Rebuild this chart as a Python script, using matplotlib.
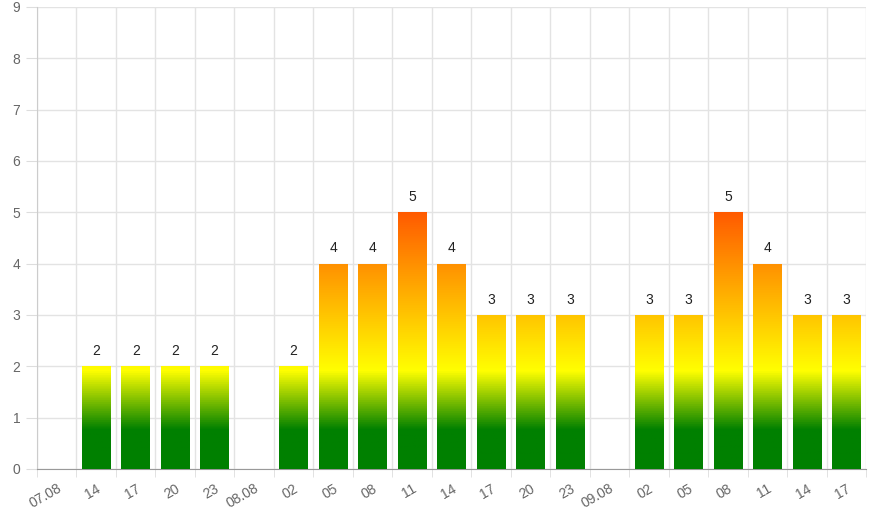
import numpy as np
import matplotlib
matplotlib.use('Agg')
import matplotlib.pyplot as plt
from matplotlib.colors import LinearSegmentedColormap

plt.rcParams['font.family'] = ['Liberation Sans', 'DejaVu Sans']

labels = ['07.08', '14', '17', '20', '23', '08.08', '02', '05', '08', '11', '14',
          '17', '20', '23', '09.08', '02', '05', '08', '11', '14', '17']
values = [None, 2, 2, 2, 2, None, 2, 4, 4, 5, 4, 3, 3, 3, None, 3, 3, 5, 4, 3, 3]

ymax = 9
# gradient stops in value units
cmap = LinearSegmentedColormap.from_list(
    'grad', [(0, '#008000'), (0.75 / ymax, '#008000'), (1.9 / ymax, '#ffff00'),
             (5.0 / ymax, '#ff5a00'), (1.0, '#ff0000')])

fig = plt.figure(figsize=(8.75, 5.25), dpi=100)
ax = fig.add_axes([37 / 875, 56 / 525, 829 / 875, 462 / 525])

x = np.arange(len(labels))
heights = [v if v is not None else 0 for v in values]
bars = ax.bar(x, heights, width=0.72, color='none', edgecolor='none', zorder=3)

grad = np.linspace(0, 1, 512).reshape(-1, 1)
for b, v in zip(bars, values):
    if v is None:
        continue
    im = ax.imshow(grad, cmap=cmap, origin='lower', aspect='auto',
                   extent=[b.get_x(), b.get_x() + b.get_width(), 0, ymax], zorder=3)
    im.set_clip_path(b)
    ax.annotate(str(v), (b.get_x() + b.get_width() / 2, v), xytext=(0, 6),
                textcoords='offset points', ha='center', va='bottom',
                fontsize=10, color='#222222')

ax.set_xlim(-0.5, len(labels) - 0.5)
ax.set_ylim(0, ymax)
ax.set_yticks(range(0, ymax + 1))
ax.set_xticks(x)
ax.set_xticklabels(labels, rotation=30, ha='right', rotation_mode='anchor')
ax.set_xticks(np.arange(len(labels) + 1) - 0.5, minor=True)
ax.tick_params(axis='x', which='major', length=0, pad=9, labelsize=10, labelcolor='#666666')
ax.tick_params(axis='x', which='minor', length=6, color='#dddddd')
ax.tick_params(axis='y', length=8, color='#dddddd', pad=4, labelsize=10, labelcolor='#666666')
ax.grid(True, which='minor', axis='x', color='#e3e3e3', linewidth=1, zorder=0)
ax.grid(True, which='major', axis='y', color='#e3e3e3', linewidth=1, zorder=0)
for s in ['top', 'right']:
    ax.spines[s].set_visible(False)
ax.spines['left'].set_color('#cccccc')
ax.spines['bottom'].set_color('#999999')

fig.savefig('out.png', dpi=100)
